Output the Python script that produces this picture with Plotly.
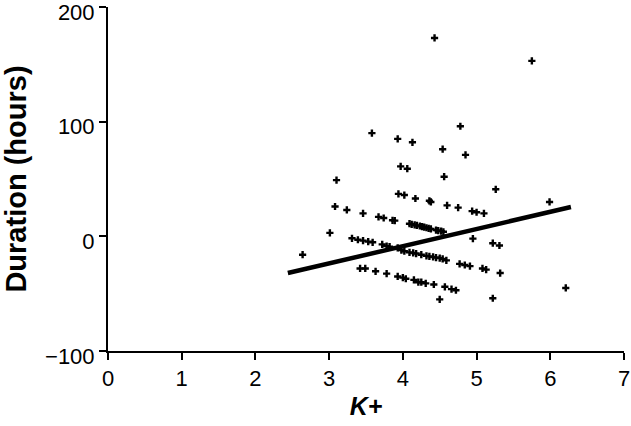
import plotly.graph_objects as go

# Scatter data: K+ (x) vs Duration in hours (y)
k_plus = [
    # upper scattered
    4.43, 5.75, 3.58, 3.93, 4.13, 4.78, 4.54, 4.85, 3.97, 4.06, 4.56, 5.26, 5.99,
    3.10, 3.94, 4.02, 4.17, 4.36, 4.38, 4.60, 4.75, 4.94, 5.00, 5.10,
    # upper band
    3.08, 3.24, 3.46, 3.67, 3.74, 3.86, 3.89,
    4.09, 4.12, 4.16, 4.19, 4.23, 4.26, 4.29, 4.32, 4.35, 4.38, 4.45, 4.48, 4.52, 4.55,
    4.95, 5.22, 5.31,
    # isolated
    3.01, 2.64,
    # middle band
    3.31, 3.39, 3.46, 3.53, 3.59, 3.72, 3.78, 3.82, 3.93, 3.98, 4.02, 4.09, 4.14, 4.18,
    4.25, 4.32, 4.36, 4.41, 4.45, 4.50, 4.54, 4.59, 4.77, 4.84, 4.91, 5.08, 5.13, 5.32,
    # lower band
    3.42, 3.49, 3.63, 3.78, 3.93, 4.00, 4.04, 4.15, 4.21, 4.25, 4.31, 4.42, 4.57, 4.66, 4.72,
    # low outliers
    4.50, 5.22, 6.21,
]
duration = [
    173, 153, 90, 85, 82, 96, 76, 71, 61, 59, 52, 41, 30,
    49, 37, 36, 33, 31, 30, 27, 25, 22, 21, 20,
    26, 23, 20, 17, 16, 14, 13.7,
    11, 10.5, 10, 9.5, 9, 8.5, 8, 7.5, 7, 6.5, 5.5, 5, 4.5, 4,
    -2, -6, -8,
    3, -16,
    -1.7, -3, -3.7, -4.6, -5.2, -7, -8.5, -9, -10, -12, -13, -14, -14.5, -15,
    -16, -17, -17.5, -18, -18.5, -19, -19.7, -21, -24, -25, -26, -28, -29, -32,
    -28, -28, -30.5, -32.5, -35, -36, -37, -38, -40, -40, -41, -42, -44, -46, -47,
    -55, -54, -45,
]

# Regression line endpoints
fit_x = [2.44, 6.28]
fit_y = [-32, 25.6]

x_ticks = [0, 1, 2, 3, 4, 5, 6, 7]
y_ticks = [-100, 0, 100, 200]

fig = go.Figure()
fig.add_trace(go.Scatter(
    x=k_plus, y=duration, mode="markers",
    marker=dict(symbol="cross", size=6, color="black", line=dict(width=0)),
    showlegend=False, cliponaxis=False,
))
fig.add_trace(go.Scatter(
    x=fit_x, y=fit_y, mode="lines",
    line=dict(color="black", width=4.5),
    showlegend=False,
))

font_family = "Liberation Sans, Arial, sans-serif"
fig.update_layout(
    width=631, height=426,
    margin=dict(l=108, r=7, t=7, b=75),
    paper_bgcolor="white", plot_bgcolor="white",
    font=dict(family=font_family, color="black", size=22),
    xaxis=dict(
        range=[0, 7], tickvals=x_ticks, showgrid=False, zeroline=False,
        showline=True, linecolor="black", linewidth=2,
        ticks="outside", ticklen=7, tickwidth=2, tickcolor="black",
        tickfont=dict(size=22), automargin=False, ticklabeloverflow="allow",
        title=dict(text="<b><i>K+</i></b>", font=dict(size=25), standoff=7),
    ),
    yaxis=dict(
        range=[-100, 200], tickvals=y_ticks, showgrid=False, zeroline=False,
        showline=True, linecolor="black", linewidth=2,
        ticks="outside", ticklen=7, tickwidth=2, tickcolor="black",
        tickfont=dict(size=22), tickformat="d", automargin=False,
        ticklabeloverflow="allow", ticklabelshift=5,
        title=dict(text="<b>Duration (hours)</b>", font=dict(size=29), standoff=19),
    ),
)

fig.write_html(
    "out.html",
    config={"displayModeBar": False},
    post_script="document.body.style.margin='0';document.body.style.overflow='hidden';",
)
